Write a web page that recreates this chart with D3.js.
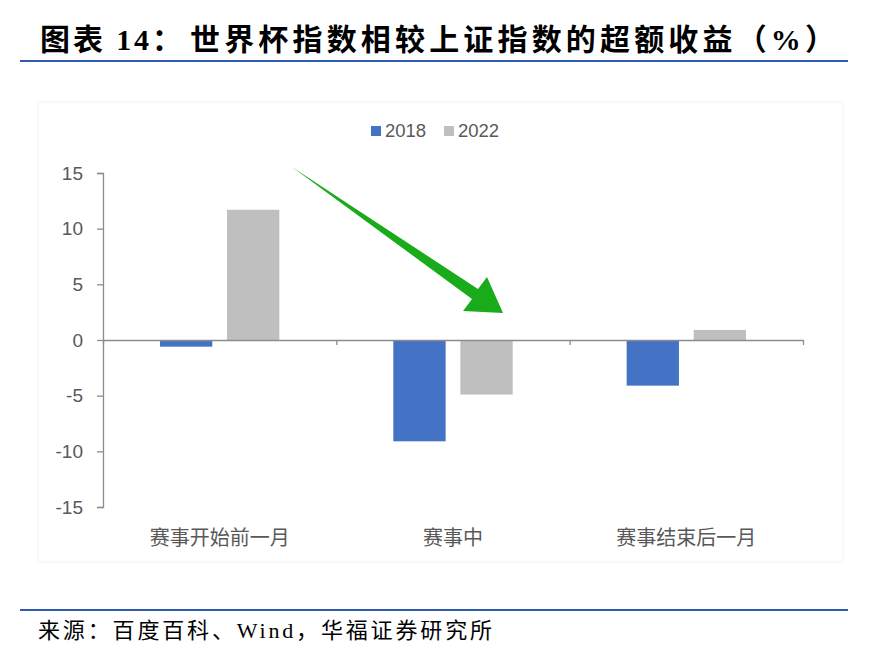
<!DOCTYPE html>
<html>
<head>
<meta charset="utf-8">
<script src="https://cdn.jsdelivr.net/npm/d3@7"></script>
<style>
  html, body { margin: 0; padding: 0; background: #fff; }
  svg { display: block; }
</style>
</head>
<body>
<svg id="chart" width="881" height="659"></svg>
<script>
var categories = ["赛事开始前一月", "赛事中", "赛事结束后一月"];
var seriesNames = ["2018", "2022"];
var values2018 = [-0.6, -9.1, -4.1];
var values2022 = [11.7, -4.9, 0.9];
var yTicks = [-15, -10, -5, 0, 5, 10, 15];
var colors = ["#4472c4", "#bfbfbf"];

var titleHead = "图表 14：";
var titleBody = "世界杯指数相较上证指数的超额收益（%）";
var source = "来源：百度百科、Wind，华福证券研究所";

var svg = d3.select("#chart");
var cjkSerif = "'Liberation Serif', 'Noto Sans CJK SC', serif";
var cjkSans = "'Liberation Sans', Arial, 'Noto Sans CJK SC', sans-serif";

// header
svg.append("text")
    .attr("x", 40).attr("y", 50)
    .attr("textLength", 142).attr("lengthAdjust", "spacing")
    .style("font-family", cjkSerif).style("font-size", "30px")
    .style("font-weight", "bold").style("fill", "#000")
    .text(titleHead);
svg.append("text")
    .attr("x", 190).attr("y", 50)
    .attr("textLength", 645).attr("lengthAdjust", "spacing")
    .style("font-family", cjkSerif).style("font-size", "30px")
    .style("font-weight", "bold").style("fill", "#000")
    .text(titleBody);
svg.append("line")
    .attr("x1", 20).attr("x2", 848).attr("y1", 61).attr("y2", 61)
    .style("stroke", "#2e5db0").style("stroke-width", 2);

// chart panel
svg.append("rect")
    .attr("x", 38).attr("y", 102).attr("width", 805).attr("height", 460)
    .style("fill", "none").style("stroke", "#f2f2f2").style("stroke-width", 1);

var margin = {left: 103, right: 803, top: 173, bottom: 507};

var y = d3.scaleLinear().domain([-15, 15]).range([margin.bottom, margin.top]);
var x0 = d3.scaleBand().domain(categories).range([margin.left, margin.right]);
var x1 = d3.scaleBand().domain(seriesNames).range([0, x0.bandwidth()])
    .paddingInner(0.22).paddingOuter(0.85);
var xEdge = d3.scaleLinear().domain([0, categories.length]).range([margin.left, margin.right]);

var rows = categories.map(function(c, i) {
  return {cat: c, vals: [
    {name: seriesNames[0], v: values2018[i]},
    {name: seriesNames[1], v: values2022[i]}
  ]};
});

// bars
var groups = svg.append("g").selectAll("g")
    .data(rows).enter().append("g")
    .attr("transform", function(d) { return "translate(" + x0(d.cat) + ",0)"; });
groups.selectAll("rect")
    .data(function(d) { return d.vals; }).enter().append("rect")
    .attr("x", function(d) { return x1(d.name); })
    .attr("width", x1.bandwidth())
    .attr("y", function(d) { return y(Math.max(0, d.v)); })
    .attr("height", function(d) { return Math.abs(y(d.v) - y(0)); })
    .style("fill", function(d, i) { return colors[i]; });

// y axis
var yAxis = svg.append("g")
    .attr("transform", "translate(" + margin.left + ",0)")
    .call(d3.axisLeft(y).tickValues(yTicks).tickSize(6).tickSizeOuter(6).tickPadding(14)
      .tickFormat(function(d) { return String(d); }));
yAxis.selectAll("path, line").style("stroke", "#8c8c8c").style("stroke-width", 1.3);
yAxis.selectAll("text").style("font-family", cjkSans).style("font-size", "19px").style("fill", "#595959");

// x axis at zero
var xAxis = svg.append("g")
    .attr("transform", "translate(0," + y(0) + ")")
    .call(d3.axisBottom(xEdge).tickValues(d3.range(categories.length + 1))
      .tickFormat("").tickSize(5).tickSizeOuter(0));
xAxis.selectAll("path, line").style("stroke", "#8c8c8c").style("stroke-width", 1.3);

// category labels
svg.append("g").selectAll("text")
    .data(categories).enter().append("text")
    .attr("x", function(d) { return x0(d) + x0.bandwidth() / 2; })
    .attr("y", 545)
    .attr("text-anchor", "middle")
    .style("font-family", cjkSans).style("font-size", "20px").style("fill", "#595959")
    .text(function(d) { return d; });

// legend
var legend = svg.append("g").selectAll("g")
    .data(seriesNames).enter().append("g")
    .attr("transform", function(d, i) { return "translate(" + (371 + i * 73) + ",126)"; });
legend.append("rect").attr("width", 10).attr("height", 10)
    .style("fill", function(d, i) { return colors[i]; });
legend.append("text").attr("x", 14).attr("y", 11)
    .style("font-family", cjkSans).style("font-size", "18.5px").style("fill", "#595959")
    .text(function(d) { return d; });

// green trend arrow annotation
var arrowPts = [[292, 167], [478, 289], [487, 277], [503, 313], [463, 311], [472, 299]];
svg.append("path")
    .attr("d", d3.line()(arrowPts) + "Z")
    .style("fill", "#1aab1a");

// footer
svg.append("line")
    .attr("x1", 20).attr("x2", 848).attr("y1", 610).attr("y2", 610)
    .style("stroke", "#2e5db0").style("stroke-width", 2);
svg.append("text")
    .attr("x", 38).attr("y", 638)
    .attr("textLength", 454).attr("lengthAdjust", "spacing")
    .style("font-family", cjkSerif).style("font-size", "22px").style("fill", "#000")
    .text(source);
</script>
</body>
</html>
